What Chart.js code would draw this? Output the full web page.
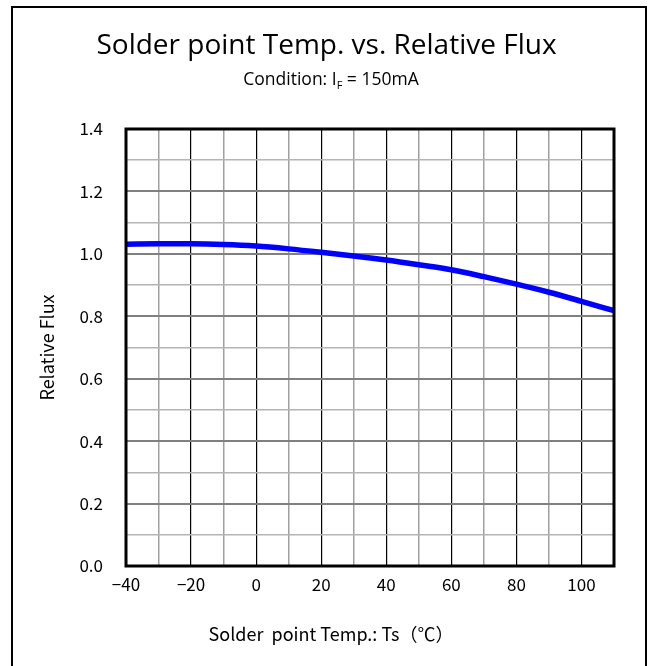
<!DOCTYPE html>
<html>
<head>
<meta charset="utf-8">
<script src="https://cdn.jsdelivr.net/npm/chart.js@4"></script>
<style>
  html, body { margin: 0; padding: 0; background: #fff; overflow: hidden; }
  #wrap { position: relative; width: 653px; height: 666px; }
  #frame { position: absolute; left: 11px; top: 6px; width: 632px; height: 700px; border: 2px solid #000; border-bottom: none; pointer-events: none; }
</style>
</head>
<body>
<div id="wrap">
  <canvas id="Flux" width="653" height="666"></canvas>
  <div id="frame"></div>
</div>
<script>
const Temps = [-40, -30, -20, -10, 0, 10, 20, 30, 40, 50, 60, 70, 80, 90, 100, 110];
const Flux = [1.031, 1.032, 1.032, 1.030, 1.025, 1.016, 1.005, 0.993, 0.980, 0.965, 0.949, 0.927, 0.903, 0.877, 0.848, 0.818];
const TitleText = "Solder point Temp. vs. Relative Flux";
const XTitle = "Solder  point Temp.: Ts\uff08\u2103\uff09";
const YTitle = "Relative Flux";

// subtitle with the subscript F, x-axis caption, and the heavy box round the plot
const extras = {
  id: "extras",
  afterDraw(chart) {
    const ctx = chart.ctx;
    const a = chart.chartArea;
    ctx.save();
    ctx.strokeStyle = "#000";
    ctx.lineWidth = 3;
    ctx.strokeRect(a.left, a.top, a.right - a.left, a.bottom - a.top);

    const big = "17.5px 'Open Sans'";
    const small = "11px 'Open Sans'";
    const parts = [["Condition: I", big, 0], ["F", small, 4], [" = 150mA", big, 0]];
    let w = 0;
    parts.forEach(p => { ctx.font = p[1]; w += ctx.measureText(p[0]).width; });
    let x = 331 - w / 2;
    ctx.fillStyle = "#000";
    ctx.textBaseline = "alphabetic";
    ctx.textAlign = "left";
    parts.forEach(p => {
      ctx.font = p[1];
      ctx.fillText(p[0], x, 85 + p[2]);
      x += ctx.measureText(p[0]).width;
    });

    ctx.font = "18px 'Noto Sans CJK JP'";
    ctx.textAlign = "center";
    ctx.textBaseline = "middle";
    ctx.fillText(XTitle, 331, 634);
    ctx.restore();
  }
};

const ctx = document.getElementById("Flux").getContext("2d");
const chart = new Chart(ctx, {
  type: "line",
  data: {
    datasets: [
      {
        label: "Relative Flux",
        data: Temps.map((t, i) => ({ x: t, y: Flux[i] })),
        fill: false,
        borderColor: "#0000ff",
        borderWidth: 5.5,
        pointRadius: 0,
        cubicInterpolationMode: "monotone"
      }
    ]
  },
  plugins: [extras],
  options: {
    responsive: false,
    animation: false,
    layout: { padding: 0 },
    plugins: {
      legend: { display: false },
      tooltip: { enabled: false },
      title: {
        display: true,
        text: TitleText,
        color: "#000",
        font: { family: "Open Sans", size: 28, weight: "normal" },
        padding: { top: 29, bottom: 66.4 }
      }
    },
    scales: {
      x: {
        type: "linear",
        min: -40,
        max: 110,
        afterFit: s => { s.height = 100; },
        border: { display: false },
        grid: {
          drawTicks: false,
          color: c => (c.tick && Math.round(c.tick.value) % 20 === 0) ? "#000" : "#a0a0a0",
          lineWidth: c => (c.tick && Math.round(c.tick.value) % 20 === 0) ? 1.2 : 1.5
        },
        ticks: {
          stepSize: 10,
          padding: 8,
          color: "#000",
          font: { family: "Noto Sans CJK JP", size: 17 },
          maxRotation: 0,
          autoSkip: false,
          callback: v => (Math.round(v) % 20 === 0) ? String(v).replace("-", "\u2212") : ""
        }
      },
      y: {
        min: 0,
        max: 1.4,
        afterFit: s => { s.width = 126; },
        border: { display: false },
        grid: {
          drawTicks: false,
          color: c => (c.tick && Math.round(c.tick.value * 10) % 2 === 0) ? "#808080" : "#b4b4b4",
          lineWidth: c => (c.tick && Math.round(c.tick.value * 10) % 2 === 0) ? 2 : 1.5
        },
        ticks: {
          stepSize: 0.1,
          padding: 23,
          color: "#000",
          font: { family: "Noto Sans CJK JP", size: 17 },
          autoSkip: false,
          callback: v => (Math.round(v * 10) % 2 === 0) ? v.toFixed(1) : ""
        },
        title: {
          display: true,
          text: YTitle,
          color: "#000",
          font: { family: "Noto Sans CJK JP", size: 18 },
          padding: { top: 36, bottom: 0 }
        }
      },
      // empty right-hand axis keeps the gap on the right without pushing the title off centre
      yRight: {
        position: "right",
        afterFit: s => { s.width = 39; },
        grid: { display: false },
        border: { display: false },
        ticks: { display: false }
      }
    }
  }
});
</script>
</body>
</html>
